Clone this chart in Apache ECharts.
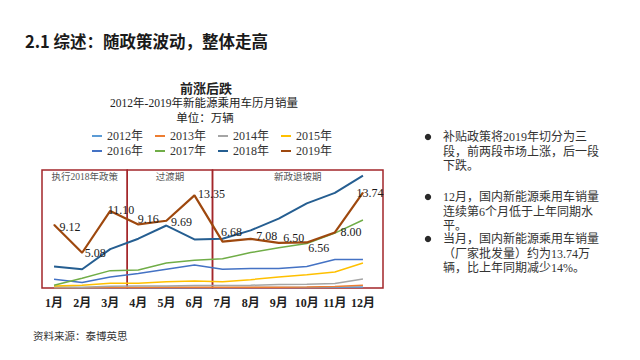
<!DOCTYPE html>
<html><head><meta charset="utf-8">
<script src="https://cdn.jsdelivr.net/npm/echarts@6/dist/echarts.min.js"></script>
<style>html,body{margin:0;padding:0;background:#fff}#c{width:640px;height:360px}</style>
</head><body><div id="c"></div>
<script>
const months = ['1月','2月','3月','4月','5月','6月','7月','8月','9月','10月','11月','12月'];
const years = ['2012年','2013年','2014年','2015年','2016年','2017年','2018年','2019年'];
const s2012 = [0.02,0.01,0.03,0.03,0.04,0.05,0.05,0.06,0.07,0.08,0.10,0.15];
const s2013 = [0.05,0.03,0.08,0.08,0.10,0.12,0.10,0.10,0.12,0.15,0.20,0.40];
const s2014 = [0.15,0.10,0.25,0.30,0.30,0.35,0.35,0.40,0.50,0.55,0.65,1.30];
const s2015 = [0.30,0.40,0.70,0.70,0.90,1.00,0.90,1.20,1.60,1.90,2.30,3.60];
const s2016 = [1.25,0.80,1.60,2.10,2.70,3.30,2.70,2.80,2.80,3.10,4.10,4.10];
const s2017 = [0.40,1.40,2.50,2.60,3.60,4.00,4.20,5.10,5.80,6.40,7.90,9.80];
const s2018 = [3.10,2.70,5.60,7.10,9.00,7.00,7.10,8.30,10.00,12.20,13.70,16.20];
const s2019 = [9.12,5.08,11.10,9.16,9.69,13.35,6.68,7.08,6.50,6.56,8.00,13.74];
const seriesValues = [s2012,s2013,s2014,s2015,s2016,s2017,s2018,s2019];
const periods = [
  {name:'执行2018年政策', from:1, to:3},
  {name:'过渡期', from:4, to:6},
  {name:'新政退坡期', from:7, to:12}
];
const chartTitle = '前涨后跌';
const chartSubtitle = '2012年-2019年新能源乘用车历月销量';
const unitText = '单位：万辆';
const pageTitle = '2.1 综述：随政策波动，整体走高';
const bullets = [
  ['补贴政策将2019年切分为三','段，前两段市场上涨，后一段','下跌。'],
  ['12月，国内新能源乘用车销量','连续第6个月低于上年同期水','平。'],
  ['当月，国内新能源乘用车销量','（厂家批发量）约为13.74万','辆，比上年同期减少14%。']
];
const sourceText = '资料来源：泰博英思';

// layout / style (not data)
const colors = ['#5B9BD5','#ED7D31','#A5A5A5','#FFC000','#4472C4','#70AD47','#255E91','#9E480E'];
const widths = [1.5,1.5,1.5,1.5,1.5,1.5,2,2.2];
const labelOffsets2019 = [[5,2],[2,0],[-3,-1],[-1,-5],[4,1],[3,-1],[-2,-10],[5,-3],[4,-5],[1,6],[5,0],[-7,0]];
const bulletY = [137,197,239];
const lineStep = 14.5;
const serif = '"Liberation Serif", "Noto Sans CJK SC"';
const cjk = '"Noto Sans CJK SC"';

const chart = echarts.init(document.getElementById('c'), null, {renderer:'svg'});

const series = years.map((y,i) => {
  const base = {
    name: y, type:'line', xAxisIndex:0, yAxisIndex:0,
    data: seriesValues[i],
    symbol:'none',
    lineStyle:{color:colors[i], width:widths[i]},
    itemStyle:{color:colors[i]},
    z: 2 + i
  };
  if (i === 7) {
    base.symbol = 'circle';
    base.symbolSize = 1;
    base.showSymbol = true;
    base.data = seriesValues[i].map((v,k) => ({
      value: v,
      label: {offset: labelOffsets2019[k]}
    }));
    base.label = {
      show:true, position:'right', distance:0,
      formatter: p => Number(p.value).toFixed(2),
      fontFamily: serif, fontSize:12, color:'#1a1a1a'
    };
  }
  return base;
});

series.push({
  type:'line', xAxisIndex:1, yAxisIndex:1, data:[], clip:false, silent:true,
  markArea:{
    silent:true,
    itemStyle:{color:'rgba(0,0,0,0)', borderColor:'#A3262A', borderWidth:1.5},
    label:{position:'insideTop', distance:3, fontFamily:serif, fontSize:9.5, color:'#555'},
    data: periods.map(p => [{name:p.name, xAxis:p.from-0.5}, {xAxis:p.to+0.5}])
  }
});

const graphics = [
  {type:'text', x:25, y:41, style:{text:pageTitle, fill:'#1a1a1a', fontSize:16.5, fontWeight:'bold', fontFamily:cjk, verticalAlign:'middle', align:'left'}},
  {type:'text', x:206, y:87, style:{text:chartTitle, fill:'#222', fontSize:13, fontWeight:'bold', fontFamily:cjk, verticalAlign:'middle', align:'center'}},
  {type:'text', x:204, y:103, style:{text:chartSubtitle, fill:'#222', fontSize:11.5, fontFamily:serif, verticalAlign:'middle', align:'center'}},
  {type:'text', x:205, y:118, style:{text:unitText, fill:'#222', fontSize:11.5, fontFamily:serif, verticalAlign:'middle', align:'center'}},
  {type:'text', x:33, y:336, style:{text:sourceText, fill:'#333', fontSize:10.5, fontFamily:serif, verticalAlign:'middle', align:'left'}}
];
bullets.forEach((lines,i) => {
  graphics.push({type:'circle', shape:{cx:428, cy:bulletY[i], r:3.2}, style:{fill:'#2a2a2a'}});
  lines.forEach((t,j) => {
    graphics.push({type:'text', x:443, y:bulletY[i] + j*lineStep, style:{text:t, fill:'#333', fontSize:12, fontFamily:serif, verticalAlign:'middle', align:'left'}});
  });
});

const legendCommon = {
  left:92, orient:'horizontal', icon:'rect', itemWidth:10, itemHeight:2, itemGap:12,
  padding:0,
  textStyle:{fontFamily:serif, fontSize:12, color:'#333'}
};

chart.setOption({
  animation:false,
  backgroundColor:'#fff',
  legend:[
    Object.assign({top:130, data:years.slice(0,4)}, legendCommon),
    Object.assign({top:145, data:years.slice(4)}, legendCommon)
  ],
  grid:[
    {left:40, top:170, width:337, height:118},
    {left:42, top:170, width:341, height:118}
  ],
  xAxis:[
    {type:'category', gridIndex:0, data:months, boundaryGap:true,
     axisLine:{show:false}, axisTick:{show:false},
     axisLabel:{interval:0, margin:9, fontSize:12, fontWeight:'bold', color:'#222', fontFamily:serif}},
    {type:'value', gridIndex:1, min:0.5, max:12.5, show:false}
  ],
  yAxis:[
    {type:'value', gridIndex:0, min:0, max:17, show:false, splitLine:{show:false}},
    {type:'value', gridIndex:1, min:0, max:1, show:false, splitLine:{show:false}}
  ],
  graphic: graphics,
  series: series
});
</script></body></html>
